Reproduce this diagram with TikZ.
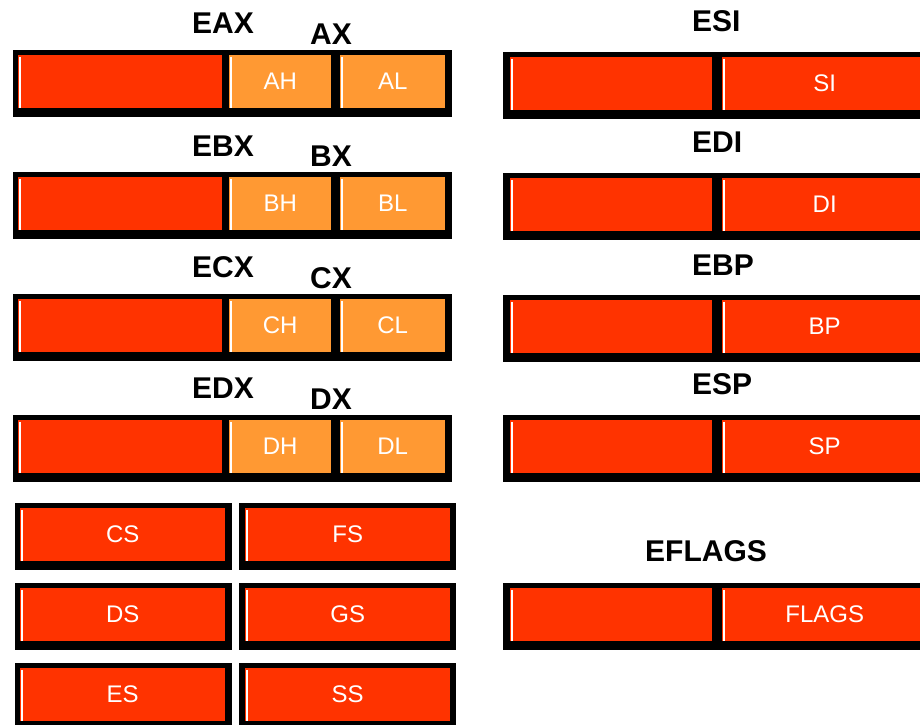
\documentclass[tikz,border=0pt]{standalone}
\usepackage{fontspec}
\setmainfont{Liberation Sans}
\usetikzlibrary{positioning}
\definecolor{rgred}{HTML}{FF3300}
\definecolor{rgorange}{HTML}{FF9933}
\definecolor{rgink}{HTML}{000000}
\tikzset{
  rgframe/.style={
    fill=rgink,
    draw=none,
    anchor=north west,
    inner sep=0pt,
    minimum height=67pt
  },
  rgpart/.style={
    fill=rgred,
    draw=none,
    anchor=north west,
    inner sep=0pt,
    minimum height=53pt,
    text=white,
    font=\fontsize{24}{24}\selectfont
  },
  rgwide/.style={rgframe, minimum width=439pt},
  rgright/.style={rgframe, minimum width=430pt},
  rgseg/.style={rgframe, minimum width=217pt},
  rglow/.style={rgpart, minimum width=204pt},
  rghigh/.style={rgpart, fill=rgorange, minimum width=102pt},
  rgbyte/.style={rgpart, fill=rgorange, minimum width=105pt},
  rgupper/.style={rgpart, minimum width=202pt},
  rglower/.style={rgpart, minimum width=205pt},
  rgsegpart/.style={rgpart, minimum width=205pt},
  rgname/.style={
    anchor=west,
    inner sep=0pt,
    font=\bfseries\fontsize{30}{30}\selectfont,
    text=rgink
  },
  rghl/.style={draw=white, line width=1.3pt}
}

\begin{document}
\begin{tikzpicture}[x=1pt,y=-1pt]
  \clip (0,0) rectangle (920,724);
  \fill[white] (0,0) rectangle (920,724);

  \node[rgwide] (eax) at (13,50) {};
  \node[rglow] (eaxlow) at (18,55) {};
  \node[rghigh] (ah) at (229,55) {AH};
  \node[rgbyte] (al) at (340,55) {AL};
  \node[rgname] (eaxname) at (192,23) {EAX};
  \node[rgname] (axname) at (310,34) {AX};

  \node[rgwide] (ebx) at (13,172) {};
  \node[rglow] (ebxlow) at (18,177) {};
  \node[rghigh] (bh) at (229,177) {BH};
  \node[rgbyte] (bl) at (340,177) {BL};
  \node[rgname] (ebxname) at (192,146) {EBX};
  \node[rgname] (bxname) at (310,156) {BX};

  \node[rgwide] (ecx) at (13,294) {};
  \node[rglow] (ecxlow) at (18,299) {};
  \node[rghigh] (ch) at (229,299) {CH};
  \node[rgbyte] (cl) at (340,299) {CL};
  \node[rgname] (ecxname) at (192,267) {ECX};
  \node[rgname] (cxname) at (310,278) {CX};

  \node[rgwide] (edx) at (13,415) {};
  \node[rglow] (edxlow) at (18,420) {};
  \node[rghigh] (dh) at (229,420) {DH};
  \node[rgbyte] (dl) at (340,420) {DL};
  \node[rgname] (edxname) at (192,388) {EDX};
  \node[rgname] (dxname) at (310,399) {DX};

  \node[rgseg] (cs) at (15,503) {};
  \node[rgsegpart] (cspart) at (20,508) {CS};
  \node[rgseg] (fs) at (239,503) {};
  \node[rgsegpart] (fspart) at (245,508) {FS};
  \node[rgseg] (ds) at (15,583) {};
  \node[rgsegpart] (dspart) at (20,588) {DS};
  \node[rgseg] (gs) at (239,583) {};
  \node[rgsegpart] (gspart) at (245,588) {GS};
  \node[rgseg] (es) at (15,663) {};
  \node[rgsegpart] (espart) at (20,668) {ES};
  \node[rgseg] (ss) at (239,663) {};
  \node[rgsegpart] (sspart) at (245,668) {SS};

  \node[rgright] (esi) at (503,52) {};
  \node[rgupper] (esiup) at (510,57) {};
  \node[rglower] (si) at (722,57) {SI};
  \node[rgname] (esiname) at (692,21) {ESI};

  \node[rgright] (edi) at (503,173) {};
  \node[rgupper] (ediup) at (510,178) {};
  \node[rglower] (di) at (722,178) {DI};
  \node[rgname] (ediname) at (692,142) {EDI};

  \node[rgright] (ebp) at (503,295) {};
  \node[rgupper] (ebpup) at (510,300) {};
  \node[rglower] (bp) at (722,300) {BP};
  \node[rgname] (ebpname) at (692,265) {EBP};

  \node[rgright] (esp) at (503,415) {};
  \node[rgupper] (espup) at (510,420) {};
  \node[rglower] (sp) at (722,420) {SP};
  \node[rgname] (espname) at (692,384) {ESP};

  \node[rgright] (eflags) at (503,583) {};
  \node[rgupper] (eflagsup) at (510,588) {};
  \node[rglower] (flags) at (722,588) {FLAGS};
  \node[rgname] (eflagsname) at (645,551) {EFLAGS};

  \foreach \p in {eaxlow,ah,al,ebxlow,bh,bl,ecxlow,ch,cl,edxlow,dh,dl,
      cspart,fspart,dspart,gspart,espart,sspart,
      esiup,si,ediup,di,ebpup,bp,espup,sp,eflagsup,flags}
    \draw[rghl] ([xshift=2pt,yshift=-2pt]\p.north west) -- ([xshift=2pt]\p.south west);
\end{tikzpicture}
\end{document}
